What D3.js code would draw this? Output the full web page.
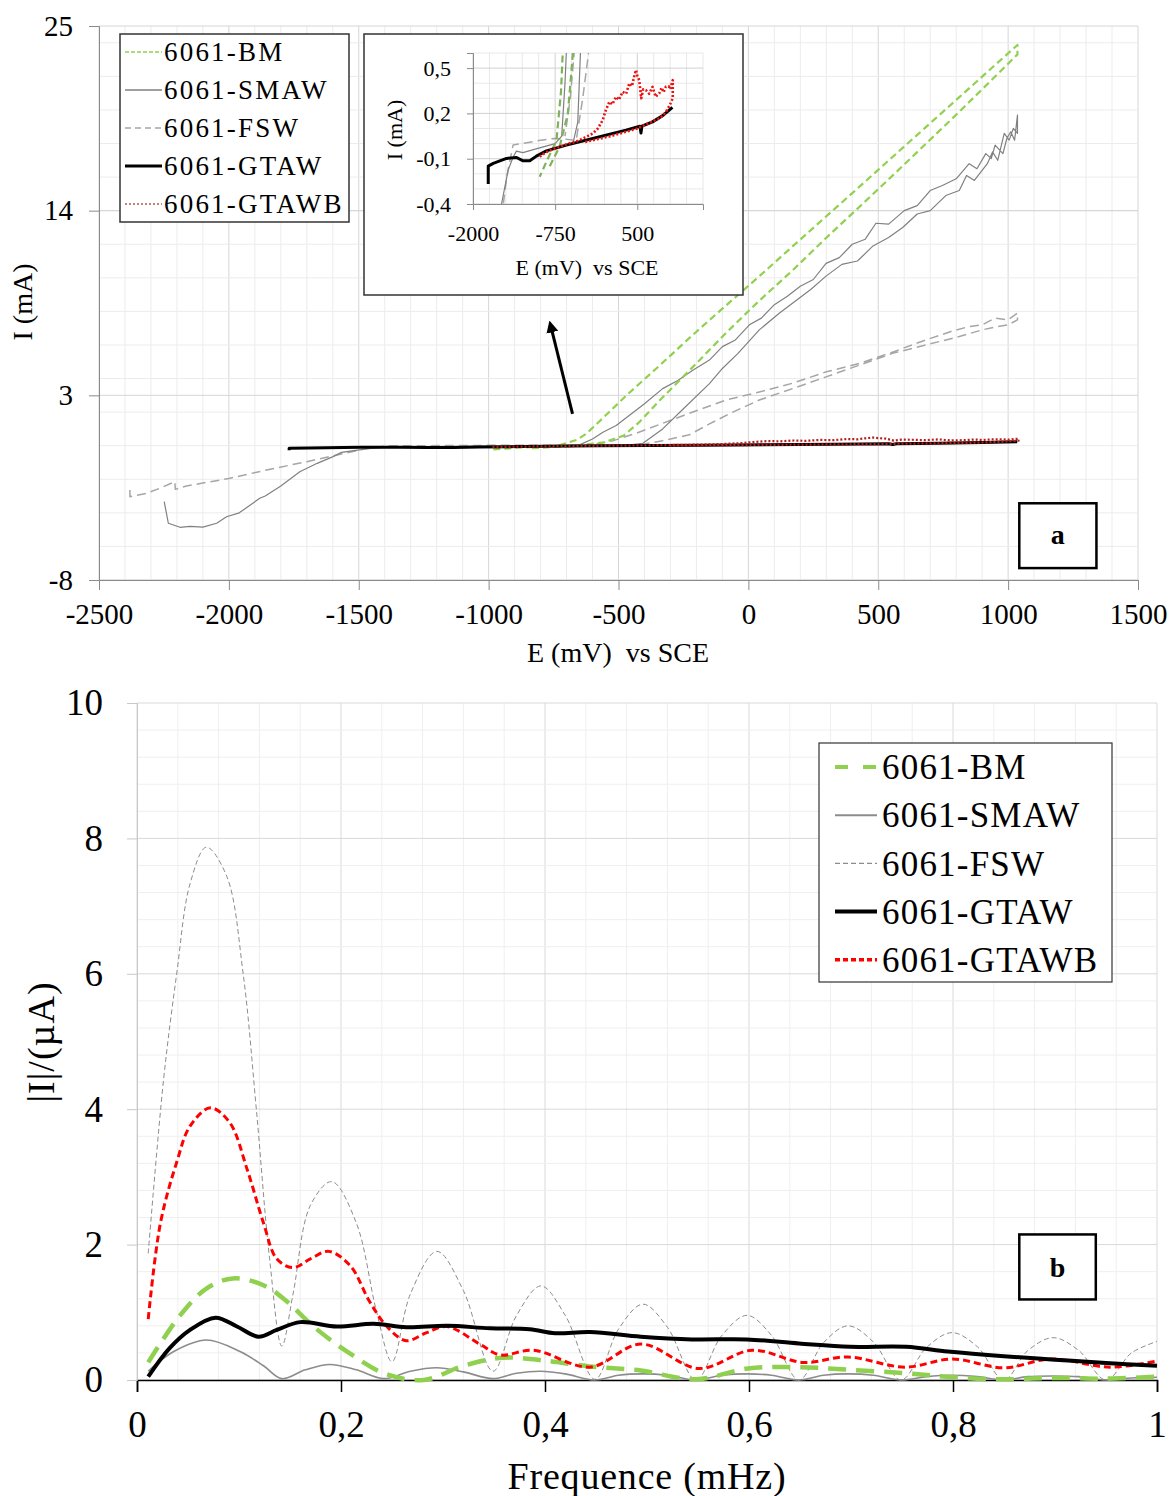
<!DOCTYPE html>
<html>
<head>
<meta charset="utf-8">
<script src="https://cdn.jsdelivr.net/npm/d3@7"></script>
<style>
  body { margin: 0; background: #fff; }
  text { font-family: "Liberation Serif", "Times New Roman", serif; fill: #000; }
</style>
</head>
<body>
<div class="chart"></div>
<script>
"use strict";

// ---------- (a) polarisation curves, [E mV, I mA] ----------
const seriesNames = ["6061-BM", "6061-SMAW", "6061-FSW", "6061-GTAW", "6061-GTAWB"];

const bmScan = [
  [-833, -0.15], [-682, -0.02], [-556, 0.2], [-480, 0.6], [-420, 1.4], [-342, 2.69], [-220, 4.59],
  [-86, 6.72], [40, 8.61], [170, 10.44], [300, 12.39], [427, 14.22], [560, 16.16], [683, 17.98],
  [810, 19.86], [940, 21.84], [1036, 23.31], [1036, 23.87], [940, 22.54], [812, 20.76],
  [680, 18.93], [555, 17.2], [430, 15.46], [299, 13.65], [170, 11.87], [42, 10.09], [-90, 8.3],
  [-214, 6.6], [-340, 4.8], [-470, 2.99], [-580, 1.35], [-625, 0.7], [-660, 0.35], [-730, 0.02],
  [-883, -0.12], [-985, -0.22]
];

const smawScan = [
  [-2249, -3.33], [-2233, -4.62], [-2188, -4.86], [-2150, -4.8], [-2100, -4.85], [-2047, -4.62],
  [-2009, -4.23], [-1960, -4.0], [-1881, -3.13], [-1860, -3.0], [-1800, -2.4], [-1727, -1.55],
  [-1660, -1.05], [-1599, -0.65], [-1566, -0.4], [-1465, -0.175], [-1390, -0.09], [-1340, -0.05],
  [-1240, -0.06], [-1000, -0.03], [-750, 0.0], [-650, 0.05], [-600, 0.4], [-560, 0.8], [-509, 1.2],
  [-450, 1.9], [-400, 2.5], [-330, 3.4], [-270, 3.9], [-214, 4.5], [-150, 5.1], [-100, 5.9],
  [-50, 6.3], [4, 7.2], [50, 7.6], [100, 8.4], [150, 8.9], [200, 9.5], [250, 9.9], [299, 10.86],
  [350, 11.2], [400, 12.0], [450, 12.3], [491, 13.25], [540, 13.2], [600, 14.0], [650, 14.3],
  [700, 15.2], [747, 15.5], [800, 15.9], [850, 16.8], [880, 16.5], [914, 17.4], [935, 17.1],
  [950, 17.9], [980, 17.4], [995, 18.3], [1010, 18.7], [1025, 18.2], [1036, 19.7], [1036, 18.6],
  [1020, 18.9], [1004, 18.2], [985, 18.6], [960, 17.0], [940, 17.5], [920, 16.8], [870, 15.8],
  [840, 16.1], [812, 15.2], [760, 14.9], [700, 14.0], [650, 13.8], [594, 13.0], [540, 12.4],
  [480, 11.9], [420, 11.0], [360, 10.8], [299, 10.1], [240, 9.3], [180, 8.6], [120, 7.9],
  [42, 6.9], [-40, 5.5], [-100, 4.6], [-150, 3.7], [-250, 2.2], [-330, 1.0], [-406, 0.14],
  [-480, 0.0]
];

const fswScan = [
  [-2381, -2.64], [-2381, -3.04], [-2317, -2.84], [-2260, -2.5], [-2208, -2.14], [-2206, -2.6],
  [-2163, -2.4], [-2000, -1.95], [-1855, -1.45], [-1700, -0.95], [-1483, -0.21], [-1390, -0.01],
  [-1000, 0.02], [-770, 0.034], [-600, 0.03], [-430, 0.02], [-330, 0.3], [-227, 0.65], [-150, 1.3],
  [-60, 2.0], [42, 2.72], [170, 3.4], [299, 4.1], [427, 4.8], [555, 5.5], [683, 6.0], [812, 6.5],
  [900, 6.9], [960, 7.1], [1000, 7.2], [1036, 7.5], [1036, 7.9], [1000, 7.5], [950, 7.6],
  [900, 7.2], [850, 7.1], [780, 6.8], [683, 6.3], [560, 5.6], [427, 4.9], [300, 4.4], [170, 3.72],
  [42, 3.2], [-86, 2.72], [-250, 1.8], [-432, 0.74], [-520, 0.3], [-600, 0.05]
];

const gtawScan = [
  [-1768, -0.268], [-1768, -0.149], [-1692, -0.131], [-1490, -0.098], [-1338, -0.092],
  [-1238, -0.114], [-1136, -0.114], [-1035, -0.083], [-883, -0.048], [-580, -0.01], [-177, 0.034],
  [328, 0.089], [540, 0.115], [556, 0.07], [570, 0.115], [732, 0.144], [900, 0.19], [1035, 0.24]
];

const gtawbScan = [
  [-985, -0.087], [-900, -0.06], [-800, -0.04], [-682, -0.021], [-550, 0.0], [-450, 0.01],
  [-379, 0.023], [-300, 0.04], [-177, 0.067], [-100, 0.1], [-26, 0.156], [20, 0.22], [76, 0.277],
  [120, 0.26], [177, 0.31], [220, 0.29], [277, 0.343], [330, 0.33], [379, 0.399], [420, 0.38],
  [450, 0.44], [480, 0.487], [500, 0.45], [530, 0.42], [560, 0.3], [590, 0.36], [632, 0.354],
  [680, 0.33], [732, 0.376], [780, 0.31], [833, 0.332], [870, 0.37], [900, 0.34], [934, 0.376],
  [980, 0.38], [1000, 0.36], [1040, 0.42], [1040, 0.3], [1000, 0.26], [950, 0.22], [900, 0.19],
  [850, 0.17], [800, 0.16], [700, 0.14], [600, 0.12], [500, 0.1], [300, 0.075], [100, 0.05],
  [-100, 0.03], [-300, 0.01]
];

const eTicks = [-2500, -2000, -1500, -1000, -500, 0, 500, 1000, 1500];
const iTicks = [-8, 3, 14, 25];
const insetETicks = [-2000, -750, 500];
const insetITicks = [-0.4, -0.1, 0.2, 0.5];

// ---------- (b) spectra, [f mHz, |I| µA] ----------
const specBM = [
  [0.011, 0.26], [0.042, 0.95], [0.068, 1.35], [0.094, 1.5], [0.124, 1.4], [0.147, 1.16],
  [0.173, 0.79], [0.206, 0.42], [0.242, 0.1], [0.281, 0.0], [0.32, 0.21], [0.359, 0.33],
  [0.398, 0.29], [0.444, 0.2], [0.494, 0.14], [0.548, 0.01], [0.599, 0.17], [0.649, 0.19],
  [0.699, 0.15], [0.754, 0.1], [0.8, 0.04], [0.85, 0.01], [0.9, 0.03], [0.95, 0.02], [1.0, 0.05]
];
const specSMAW = [
  [0.011, 0.13], [0.036, 0.42], [0.068, 0.59], [0.101, 0.42], [0.124, 0.21], [0.142, 0.02],
  [0.165, 0.15], [0.189, 0.23], [0.215, 0.15], [0.242, 0.02], [0.268, 0.13], [0.294, 0.18],
  [0.32, 0.12], [0.349, 0.02], [0.372, 0.1], [0.396, 0.13], [0.42, 0.09], [0.449, 0.0],
  [0.472, 0.07], [0.496, 0.09], [0.52, 0.07], [0.548, 0.0], [0.573, 0.07], [0.598, 0.09],
  [0.622, 0.07], [0.649, 0.0], [0.673, 0.07], [0.697, 0.09], [0.722, 0.07], [0.749, 0.0],
  [0.774, 0.05], [0.799, 0.07], [0.824, 0.05], [0.85, 0.0], [0.873, 0.05], [0.898, 0.06],
  [0.923, 0.05], [0.95, 0.0], [0.975, 0.03], [1.0, 0.04]
];
const specFSW = [
  [0.011, 1.87], [0.026, 4.43], [0.039, 6.01], [0.052, 7.33], [0.068, 7.87], [0.088, 7.44],
  [0.104, 6.01], [0.117, 4.0], [0.13, 1.79], [0.142, 0.5], [0.153, 1.27], [0.17, 2.58],
  [0.191, 2.93], [0.215, 2.32], [0.235, 1.0], [0.25, 0.27], [0.268, 1.27], [0.294, 1.9],
  [0.32, 1.32], [0.349, 0.13], [0.372, 0.95], [0.396, 1.39], [0.42, 0.95], [0.449, 0.01],
  [0.472, 0.75], [0.496, 1.12], [0.52, 0.78], [0.548, 0.0], [0.573, 0.65], [0.598, 0.955],
  [0.622, 0.66], [0.649, 0.0], [0.673, 0.55], [0.697, 0.8], [0.722, 0.56], [0.749, 0.0],
  [0.774, 0.48], [0.799, 0.7], [0.824, 0.49], [0.85, 0.0], [0.873, 0.43], [0.898, 0.625],
  [0.923, 0.44], [0.95, 0.0], [0.975, 0.4], [1.0, 0.57]
];
const specGTAW = [
  [0.011, 0.05], [0.032, 0.47], [0.052, 0.74], [0.077, 0.92], [0.098, 0.79], [0.119, 0.64],
  [0.137, 0.74], [0.16, 0.855], [0.196, 0.79], [0.232, 0.83], [0.264, 0.78], [0.304, 0.8],
  [0.346, 0.765], [0.385, 0.75], [0.41, 0.69], [0.444, 0.71], [0.494, 0.64], [0.544, 0.6],
  [0.598, 0.6], [0.649, 0.54], [0.699, 0.49], [0.754, 0.49], [0.795, 0.42], [0.85, 0.35],
  [0.9, 0.3], [0.95, 0.25], [1.0, 0.21]
];
const specGTAWB = [
  [0.011, 0.9], [0.023, 2.32], [0.039, 3.22], [0.052, 3.75], [0.072, 4.02], [0.091, 3.8],
  [0.108, 3.11], [0.124, 2.32], [0.137, 1.79], [0.153, 1.66], [0.17, 1.79], [0.188, 1.9],
  [0.209, 1.69], [0.228, 1.16], [0.245, 0.79], [0.264, 0.58], [0.284, 0.7], [0.304, 0.79],
  [0.336, 0.53], [0.356, 0.37], [0.389, 0.44], [0.444, 0.19], [0.494, 0.53], [0.551, 0.17],
  [0.603, 0.44], [0.653, 0.26], [0.697, 0.34], [0.753, 0.19], [0.799, 0.31], [0.85, 0.18],
  [0.896, 0.31], [0.954, 0.19], [1.0, 0.28]
];
const fTicks = [0, 0.2, 0.4, 0.6, 0.8, 1];
const ampTicks = [0, 2, 4, 6, 8, 10];

const comma = (d) => String(d).replace(".", ",");

const svg = d3
  .select(".chart")
  .append("svg")
  .attr("width", 1171)
  .attr("height", 1496);

svg.append("rect").attr("width", 1171).attr("height", 1496).attr("fill", "#fff");

// ================= chart (a) =================
const x = d3.scaleLinear().domain([-2500, 1500]).range([99, 1138]);
const y = d3.scaleLinear().domain([-8, 25]).range([580, 26]);

const gridA = svg.append("g");
gridA
  .selectAll(".vminor")
  .data(d3.range(-2500, 1501, 100))
  .join("line")
  .attr("x1", (d) => x(d)).attr("x2", (d) => x(d))
  .attr("y1", y(-8)).attr("y2", y(25))
  .attr("stroke", (d) => (d % 500 === 0 ? "#d6d6d6" : "#ececec"));
gridA
  .selectAll(".hminor")
  .data(d3.range(-8, 25.01, 2).concat(iTicks))
  .join("line")
  .attr("x1", x(-2500)).attr("x2", x(1500))
  .attr("y1", (d) => y(d)).attr("y2", (d) => y(d))
  .attr("stroke", (d) => (iTicks.includes(d) ? "#d6d6d6" : "#ececec"));

const xAxis = d3.axisBottom(x).tickValues(eTicks).tickFormat(comma).tickSize(10).tickPadding(13);
const yAxis = d3.axisLeft(y).tickValues(iTicks).tickFormat(comma).tickSize(10).tickPadding(16);

const xg = svg.append("g").attr("transform", `translate(0,${y(-8)})`).call(xAxis);
const yg = svg.append("g").attr("transform", `translate(${x(-2500)},0)`).call(yAxis);
[xg, yg].forEach((g) => {
  g.select(".domain").attr("stroke", "#8a8a8a");
  g.selectAll(".tick line").attr("stroke", "#8a8a8a");
  g.selectAll("text").attr("font-size", 29).attr("font-family", "Liberation Serif");
});

svg.append("text")
  .attr("x", 618).attr("y", 662)
  .attr("text-anchor", "middle").attr("font-size", 28)
  .attr("xml:space", "preserve")
  .text("E (mV)  vs SCE");
svg.append("text")
  .attr("transform", "translate(32,302) rotate(-90)")
  .attr("text-anchor", "middle").attr("font-size", 28)
  .text("I (mA)");

const styleA = {
  "6061-BM": { stroke: "#92d050", width: 2.2, dash: "7,4" },
  "6061-SMAW": { stroke: "#808080", width: 1.2, dash: null },
  "6061-FSW": { stroke: "#a6a6a6", width: 1.5, dash: "9,5" },
  "6061-GTAW": { stroke: "#000", width: 3, dash: null },
  "6061-GTAWB": { stroke: "#b81c1c", width: 2.2, dash: "2,2" }
};
const scansA = [
  ["6061-FSW", fswScan],
  ["6061-SMAW", smawScan],
  ["6061-BM", bmScan],
  ["6061-GTAW", gtawScan],
  ["6061-GTAWB", gtawbScan]
];

const lineA = d3.line().x((d) => x(d[0])).y((d) => y(d[1]));
scansA.forEach(([name, data]) => {
  const s = styleA[name];
  svg.append("path")
    .datum(data)
    .attr("fill", "none")
    .attr("stroke", s.stroke)
    .attr("stroke-width", s.width)
    .attr("stroke-dasharray", s.dash)
    .attr("stroke-linejoin", "round")
    .attr("d", lineA);
});

// arrow pointing to the inset
svg.append("defs")
  .append("marker")
  .attr("id", "head")
  .attr("viewBox", "0 0 10 10")
  .attr("refX", 2).attr("refY", 5)
  .attr("markerWidth", 4).attr("markerHeight", 4)
  .attr("orient", "auto")
  .append("path")
  .attr("d", "M0,0L10,5L0,10Z")
  .attr("fill", "#000");
svg.append("line")
  .attr("x1", x(-677)).attr("y1", y(1.9))
  .attr("x2", x(-757)).attr("y2", y(6.9))
  .attr("stroke", "#000").attr("stroke-width", 3)
  .attr("marker-end", "url(#head)");

// legend (a)
const legA = svg.append("g");
legA.append("rect")
  .attr("x", 120).attr("y", 34).attr("width", 229).attr("height", 188)
  .attr("fill", "#fff").attr("stroke", "#333").attr("stroke-width", 1.5);
seriesNames.forEach((name, i) => {
  const s = styleA[name];
  const cy = 52 + i * 38;
  legA.append("line")
    .attr("x1", 125).attr("x2", 162).attr("y1", cy).attr("y2", cy)
    .attr("stroke", name === "6061-GTAWB" ? "#c0504d" : s.stroke)
    .attr("stroke-width", name === "6061-GTAW" ? 3 : 1.5)
    .attr("stroke-dasharray", name === "6061-BM" ? "4,2" : name === "6061-FSW" ? "6,4" : s.dash);
  legA.append("text")
    .attr("x", 164).attr("y", cy).attr("dy", "0.35em")
    .attr("font-size", 27).attr("letter-spacing", 2.2)
    .text(name);
});

// "a" tag
svg.append("rect")
  .attr("x", x(1043)).attr("y", y(-3.43))
  .attr("width", x(1340) - x(1043)).attr("height", y(-7.29) - y(-3.43))
  .attr("fill", "#fff").attr("stroke", "#000").attr("stroke-width", 2.5);
svg.append("text")
  .attr("x", (x(1043) + x(1340)) / 2).attr("y", (y(-3.43) + y(-7.29)) / 2)
  .attr("dy", "0.3em").attr("text-anchor", "middle")
  .attr("font-size", 28).attr("font-weight", "bold")
  .text("a");

// ---------- inset ----------
const ix = d3.scaleLinear().domain([-2000, 1500]).range([473, 703]);
const iy = d3.scaleLinear().domain([-0.4, 0.6]).range([204, 53]);

svg.append("rect")
  .attr("x", 364).attr("y", 34).attr("width", 379).attr("height", 261)
  .attr("fill", "#fff").attr("stroke", "#333").attr("stroke-width", 1.5);

const gridI = svg.append("g");
gridI.selectAll("line.v")
  .data(d3.range(-2000, 1501, 250))
  .join("line")
  .attr("x1", (d) => ix(d)).attr("x2", (d) => ix(d))
  .attr("y1", iy(-0.4)).attr("y2", iy(0.6))
  .attr("stroke", (d) => (insetETicks.includes(d) ? "#d0d0d0" : "#e8e8e8"));
gridI.selectAll("line.h")
  .data(d3.range(0, 11).map((k) => -0.4 + k * 0.1))
  .join("line")
  .attr("x1", ix(-2000)).attr("x2", ix(1500))
  .attr("y1", (d) => iy(d)).attr("y2", (d) => iy(d))
  .attr("stroke", (d, k) => (k % 3 === 0 ? "#d0d0d0" : "#e8e8e8"));

svg.append("defs")
  .append("clipPath").attr("id", "insetClip")
  .append("rect")
  .attr("x", ix(-2000)).attr("y", iy(0.6))
  .attr("width", ix(1500) - ix(-2000)).attr("height", iy(-0.4) - iy(0.6));

const ixAxis = d3.axisBottom(ix).tickValues(insetETicks).tickFormat(comma).tickSize(6).tickPadding(15);
const iyAxis = d3.axisLeft(iy).tickValues(insetITicks).tickFormat(comma).tickSize(6).tickPadding(16);
const ixg = svg.append("g").attr("transform", `translate(0,${iy(-0.4)})`).call(ixAxis);
const iyg = svg.append("g").attr("transform", `translate(${ix(-2000)},0)`).call(iyAxis);
[ixg, iyg].forEach((g) => {
  g.select(".domain").attr("stroke", "#8a8a8a");
  g.selectAll(".tick line").attr("stroke", "#8a8a8a");
  g.selectAll("text").attr("font-size", 22).attr("font-family", "Liberation Serif");
});
svg.append("text")
  .attr("x", 587).attr("y", 275)
  .attr("text-anchor", "middle").attr("font-size", 22)
  .attr("xml:space", "preserve")
  .text("E (mV)  vs SCE");
svg.append("text")
  .attr("transform", "translate(402,130) rotate(-90)")
  .attr("text-anchor", "middle").attr("font-size", 22)
  .text("I (mA)");

const lineI = d3.line().x((d) => ix(d[0])).y((d) => iy(d[1]));
const insetLines = svg.append("g").attr("clip-path", "url(#insetClip)");
scansA.forEach(([name, data]) => {
  const s = styleA[name];
  insetLines.append("path")
    .datum(data)
    .attr("fill", "none")
    .attr("stroke", name === "6061-GTAWB" ? "#ee1111" : name === "6061-BM" ? "#7fb35a" : s.stroke)
    .attr("stroke-width", name === "6061-GTAWB" ? 2.6 : s.width)
    .attr("stroke-dasharray", s.dash)
    .attr("stroke-linejoin", "round")
    .attr("d", lineI);
});

// ================= chart (b) =================
const fx = d3.scaleLinear().domain([0, 1]).range([137, 1157]);
const fy = d3.scaleLinear().domain([0, 10]).range([1380, 703]);

const gridB = svg.append("g");
gridB.selectAll("line.v")
  .data(d3.range(0, 26).map((k) => k * 0.04))
  .join("line")
  .attr("x1", (d) => fx(d)).attr("x2", (d) => fx(d))
  .attr("y1", fy(0)).attr("y2", fy(10))
  .attr("stroke", (d, k) => (k % 5 === 0 ? "#d9d9d9" : "#efefef"));
gridB.selectAll("line.h")
  .data(d3.range(0, 26).map((k) => k * 0.4))
  .join("line")
  .attr("x1", fx(0)).attr("x2", fx(1))
  .attr("y1", (d) => fy(d)).attr("y2", (d) => fy(d))
  .attr("stroke", (d, k) => (k % 5 === 0 ? "#d9d9d9" : "#efefef"));

const fAxis = d3.axisBottom(fx).tickValues(fTicks).tickFormat(comma).tickSize(12).tickPadding(19);
const aAxis = d3.axisLeft(fy).tickValues(ampTicks).tickFormat(comma).tickSize(10).tickPadding(24);
const fg = svg.append("g").attr("transform", `translate(0,${fy(0)})`).call(fAxis);
const ag = svg.append("g").attr("transform", `translate(${fx(0)},0)`).call(aAxis);
fg.select(".domain").attr("stroke", "#000").attr("stroke-width", 1.5);
fg.selectAll(".tick line").attr("stroke", "#000").attr("stroke-width", 1.5);
ag.select(".domain").attr("stroke", "#c8c8c8");
ag.selectAll(".tick line").attr("stroke", "#c8c8c8");
[fg, ag].forEach((g) =>
  g.selectAll("text").attr("font-size", 37).attr("font-family", "Liberation Serif")
);

svg.append("text")
  .attr("x", 647).attr("y", 1489)
  .attr("text-anchor", "middle").attr("font-size", 38).attr("letter-spacing", 0.8)
  .text("Frequence (mHz)");
svg.append("text")
  .attr("transform", "translate(54,1042) rotate(-90)")
  .attr("text-anchor", "middle").attr("font-size", 38).attr("letter-spacing", 1)
  .text("|I|/(µA)");

const styleB = {
  "6061-BM": { stroke: "#8fd14f", width: 4.5, dash: "18,10" },
  "6061-SMAW": { stroke: "#8c8c8c", width: 1.6, dash: null },
  "6061-FSW": { stroke: "#8c8c8c", width: 1, dash: "5,3" },
  "6061-GTAW": { stroke: "#000", width: 4, dash: null },
  "6061-GTAWB": { stroke: "#ff0000", width: 3, dash: "7,4" }
};
const specs = [
  ["6061-FSW", specFSW],
  ["6061-SMAW", specSMAW],
  ["6061-BM", specBM],
  ["6061-GTAWB", specGTAWB],
  ["6061-GTAW", specGTAW]
];
const lineB = d3
  .line()
  .x((d) => fx(d[0]))
  .y((d) => fy(d[1]))
  .curve(d3.curveCatmullRom.alpha(0.5));
specs.forEach(([name, data]) => {
  const s = styleB[name];
  svg.append("path")
    .datum(data)
    .attr("fill", "none")
    .attr("stroke", s.stroke)
    .attr("stroke-width", s.width)
    .attr("stroke-dasharray", s.dash)
    .attr("stroke-linejoin", "round")
    .attr("d", lineB);
});

// legend (b)
const legB = svg.append("g");
legB.append("rect")
  .attr("x", 819).attr("y", 743).attr("width", 293).attr("height", 239)
  .attr("fill", "#fff").attr("stroke", "#333").attr("stroke-width", 1.2);
seriesNames.forEach((name, i) => {
  const s = styleB[name];
  const cy = 767 + i * 48.2;
  legB.append("line")
    .attr("x1", 835).attr("x2", 877).attr("y1", cy).attr("y2", cy)
    .attr("stroke", s.stroke)
    .attr("stroke-width", name === "6061-GTAW" ? 4 : name === "6061-BM" ? 4 : s.width + 0.4)
    .attr("stroke-dasharray", name === "6061-BM" ? "13,15" : name === "6061-GTAWB" ? "5,3" : s.dash);
  legB.append("text")
    .attr("x", 882).attr("y", cy).attr("dy", "0.35em")
    .attr("font-size", 35).attr("letter-spacing", 1.2)
    .text(name);
});

// "b" tag
svg.append("rect")
  .attr("x", fx(0.865)).attr("y", fy(2.15))
  .attr("width", fx(0.94) - fx(0.865)).attr("height", fy(1.19) - fy(2.15))
  .attr("fill", "#fff").attr("stroke", "#000").attr("stroke-width", 2.5);
svg.append("text")
  .attr("x", (fx(0.865) + fx(0.94)) / 2).attr("y", (fy(2.15) + fy(1.19)) / 2)
  .attr("dy", "0.35em").attr("text-anchor", "middle")
  .attr("font-size", 28).attr("font-weight", "bold")
  .text("b");
</script>
</body>
</html>
